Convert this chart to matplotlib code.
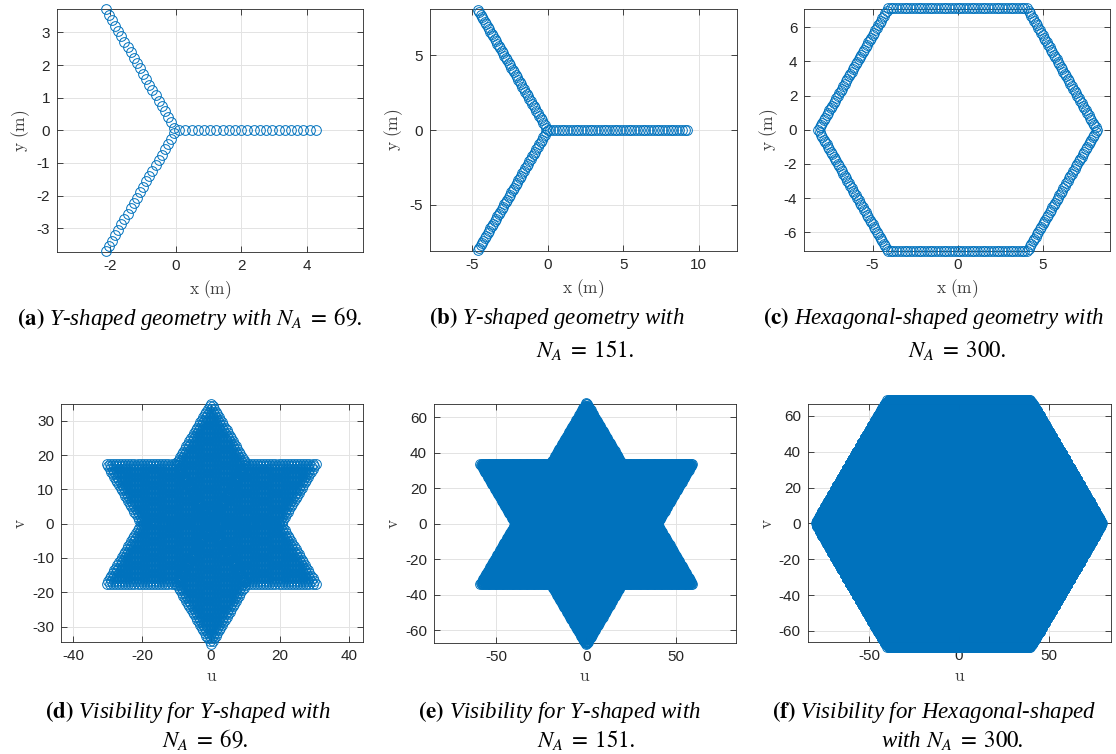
"""Antenna layouts and their (u, v) visibility coverage for Y and hexagonal arrays."""

import numpy as np
import matplotlib

matplotlib.use("Agg")

import matplotlib.pyplot as plt

plt.rcParams["font.family"] = ["Liberation Sans", "DejaVu Sans"]
plt.rcParams["mathtext.fontset"] = "stix"
plt.rcParams["axes.unicode_minus"] = False

W, H = 1116, 754
BLUE = "#0072BD"

# Y-shaped array, 69 antennas: 23 per arm, first one just off the centre
Y69_PER_ARM = 23
Y69_OFFSET = 0.10
Y69_SPACING = 0.19
Y69_WAVELENGTH = 0.212

# Y-shaped array, 151 antennas: one at the centre plus 50 per arm
Y151_PER_ARM = 50
Y151_OFFSET = 0.185
Y151_SPACING = 0.185
Y151_CENTRE = True
Y151_WAVELENGTH = 0.236

# hexagonal ring, 300 antennas: 50 on each side
HEX_PER_SIDE = 50
HEX_RADIUS = 8.2
HEX_WAVELENGTH = 0.2065

ARM_ANGLES_DEG = [0, 120, 240]
HEX_VERTEX_DEG = [0, 60, 120, 180, 240, 300]


def y_layout(per_arm, offset, spacing, centre=False):
    r = offset + spacing * np.arange(per_arm)
    xs, ys = [], []
    if centre:
        xs.append(np.zeros(1))
        ys.append(np.zeros(1))
    for a in np.deg2rad(ARM_ANGLES_DEG):
        xs.append(r * np.cos(a))
        ys.append(r * np.sin(a))
    return np.concatenate(xs), np.concatenate(ys)


def hex_layout(per_side, radius):
    ang = np.deg2rad(HEX_VERTEX_DEG)
    vx, vy = radius * np.cos(ang), radius * np.sin(ang)
    t = np.arange(per_side) / per_side
    xs, ys = [], []
    for k in range(len(ang)):
        k2 = (k + 1) % len(ang)
        xs.append(vx[k] + t * (vx[k2] - vx[k]))
        ys.append(vy[k] + t * (vy[k2] - vy[k]))
    return np.concatenate(xs), np.concatenate(ys)


def baselines(x, y, wavelength):
    du = (x[:, None] - x[None, :]) / wavelength
    dv = (y[:, None] - y[None, :]) / wavelength
    off = ~np.eye(len(x), dtype=bool)
    return du[off], dv[off]


def make_axes(fig, box, xlim, ylim, xticks, yticks):
    x0, y0, x1, y1 = box
    ax = fig.add_axes([x0 / W, 1 - y1 / H, (x1 - x0) / W, (y1 - y0) / H])
    ax.set_xlim(*xlim)
    ax.set_ylim(*ylim)
    ax.set_xticks(xticks)
    ax.set_yticks(yticks)
    ax.grid(True, color="#e3e3e3", linewidth=0.7)
    ax.set_axisbelow(True)
    ax.tick_params(direction="in", top=True, right=True, length=4, width=0.6,
                   color="#262626", labelsize=11, labelcolor="#262626", pad=5)
    for s in ax.spines.values():
        s.set_color("#262626")
        s.set_linewidth(0.6)
    return ax


def circles(ax, x, y):
    ax.plot(x, y, "o", markersize=7, markerfacecolor="none", markeredgecolor=BLUE,
            markeredgewidth=0.7, clip_on=False, zorder=3)


def axis_label(ax, xtxt, ytxt):
    ax.set_xlabel(xtxt, math_fontfamily="cm", fontsize=12.5, color="#404040", labelpad=4)
    ax.set_ylabel(ytxt, math_fontfamily="cm", fontsize=12.5, color="#404040", labelpad=3)


def caption(fig, xc, yc, txt, size=16.5):
    fig.text(xc / W, 1 - yc / H, txt, ha="center", va="center", fontsize=size,
             family="Liberation Serif", style="italic")


fig = plt.figure(figsize=(W / 100, H / 100), dpi=100)

layouts = [
    (y_layout(Y69_PER_ARM, Y69_OFFSET, Y69_SPACING), Y69_WAVELENGTH),
    (y_layout(Y151_PER_ARM, Y151_OFFSET, Y151_SPACING, Y151_CENTRE), Y151_WAVELENGTH),
    (hex_layout(HEX_PER_SIDE, HEX_RADIUS), HEX_WAVELENGTH),
]

top_axes = [
    dict(box=(57, 9.3, 363, 251.7), xlim=(-3.63, 5.72), ylim=(-3.72, 3.71),
         xticks=[-2, 0, 2, 4], yticks=np.arange(-3, 4)),
    dict(box=(430, 9.3, 736.7, 251), xlim=(-7.79, 12.52), ylim=(-8.07, 8.05),
         xticks=[-5, 0, 5, 10], yticks=[-5, 0, 5]),
    dict(box=(804.3, 9.3, 1110, 251), xlim=(-9.02, 8.97), ylim=(-7.09, 7.05),
         xticks=[-5, 0, 5], yticks=np.arange(-6, 7, 2)),
]
bottom_axes = [
    dict(box=(61, 404, 363.3, 642.3), xlim=(-43.5, 44.1), ylim=(-34.6, 34.9),
         xticks=np.arange(-40, 41, 20), yticks=np.arange(-30, 31, 10)),
    dict(box=(434, 404.3, 735.7, 642.7), xlim=(-84.6, 83.0), ylim=(-67.0, 67.3),
         xticks=[-50, 0, 50], yticks=np.arange(-60, 61, 20)),
    dict(box=(807.7, 404, 1110.7, 642.3), xlim=(-84.0, 84.4), ylim=(-66.4, 66.7),
         xticks=[-50, 0, 50], yticks=np.arange(-60, 61, 20)),
]

for ((x, y), lam), top, bot in zip(layouts, top_axes, bottom_axes):
    ax = make_axes(fig, **top)
    circles(ax, x, y)
    axis_label(ax, r"$\mathrm{x\ (m)}$", r"$\mathrm{y\ (m)}$")

    u, v = baselines(x, y, lam)
    ax = make_axes(fig, **bot)
    circles(ax, u, v)
    axis_label(ax, r"$\mathrm{u}$", r"$\mathrm{v}$")

# sub-figure captions
caption(fig, 190, 318, r"$\mathbf{(a)}$ Y-shaped geometry with $N_A\;=\;69$.")
caption(fig, 557, 318, r"$\mathbf{(b)}$ Y-shaped geometry with")
caption(fig, 585, 350, r"$N_A\;=\;151$.")
caption(fig, 933, 318, r"$\mathbf{(c)}$ Hexagonal-shaped geometry with")
caption(fig, 957, 350, r"$N_A\;=\;300$.")
caption(fig, 188, 712, r"$\mathbf{(d)}$ Visibility for Y-shaped with")
caption(fig, 205, 740, r"$N_A\;=\;69$.")
caption(fig, 560, 712, r"$\mathbf{(e)}$ Visibility for Y-shaped with")
caption(fig, 586, 740, r"$N_A\;=\;151$.")
caption(fig, 934, 712, r"$\mathbf{(f)}$ Visibility for Hexagonal-shaped")
caption(fig, 952, 740, r"with $N_A\;=\;300$.")

fig.savefig("out.png", dpi=100)
